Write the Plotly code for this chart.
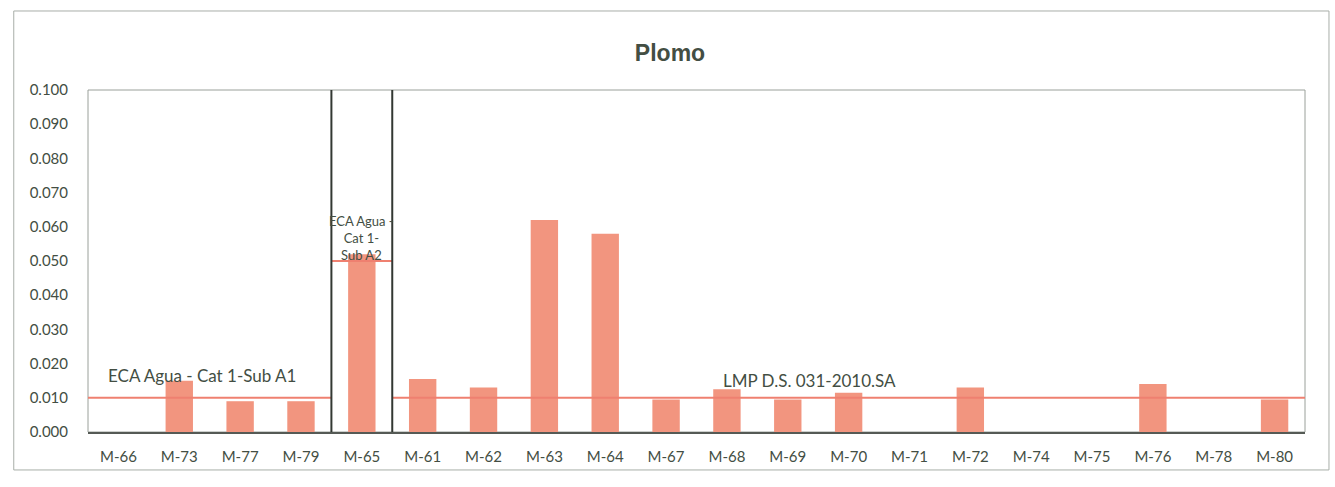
import plotly.graph_objects as go

# Sampling points and measured lead concentration (mg/L)
categories = ["M-66", "M-73", "M-77", "M-79", "M-65", "M-61", "M-62", "M-63", "M-64", "M-67",
              "M-68", "M-69", "M-70", "M-71", "M-72", "M-74", "M-75", "M-76", "M-78", "M-80"]
plomo = [0.0, 0.015, 0.009, 0.009, 0.052, 0.0155, 0.013, 0.062, 0.058, 0.0095,
         0.0125, 0.0095, 0.0115, 0.0, 0.013, 0.0, 0.0, 0.014, 0.0, 0.0095]

# Reference limits and the category spans they apply to (index ranges)
limit_names = ["ECA Agua - Cat 1-Sub A1", "ECA Agua -<br>Cat 1-<br>Sub A2", "LMP D.S. 031-2010.SA"]
limit_values = [0.010, 0.050, 0.010]
limit_spans = [(0, 3), (4, 4), (5, 19)]

y_ticks = [round(0.01 * i, 3) for i in range(11)]

BAR = "#F2957F"
LINE = "#EF8070"
TEXT = "#434E43"
FONT = "Lato"

idx = list(range(len(categories)))

fig = go.Figure()
fig.add_trace(go.Bar(x=idx, y=plomo, marker=dict(color=BAR, line=dict(width=0)),
                     width=0.45, showlegend=False))

# Limit lines drawn across their category spans
for val, (a, b) in zip(limit_values, limit_spans):
    fig.add_trace(go.Scatter(x=[a - 0.5, b + 0.5], y=[val, val], mode="lines",
                             line=dict(color=LINE, width=2), showlegend=False,
                             hoverinfo="skip"))

# Dark separators around the A2 group
for xb in (3.5, 4.5):
    fig.add_shape(type="line", x0=xb, x1=xb, y0=0, y1=0.1, xref="x", yref="y",
                  line=dict(color="#333833", width=2))

# Limit labels
fig.add_annotation(x=1.38, y=limit_values[0] + 0.0065, text=limit_names[0], showarrow=False,
                   font=dict(family=FONT, size=17, color=TEXT))
fig.add_annotation(x=4, y=limit_values[1] + 0.0068, text=limit_names[1], showarrow=False,
                   font=dict(family=FONT, size=13, color=TEXT), align="center")
fig.add_annotation(x=11.35, y=limit_values[2] + 0.0052, text=limit_names[2], showarrow=False,
                   font=dict(family=FONT, size=17, color=TEXT))

# Plot-area frame and outer chart frame
fig.add_shape(type="rect", xref="paper", yref="paper", x0=0, x1=1, y0=0, y1=1,
              line=dict(color="#9aa09a", width=1), layer="below")
fig.add_shape(type="rect", xref="paper", yref="paper", x0=-0.061, x1=1.0197,
              y0=-0.111, y1=1.231, line=dict(color="#a8aea8", width=1))

fig.update_layout(
    width=1335, height=487,
    margin=dict(l=88, r=30, t=90, b=55),
    paper_bgcolor="white", plot_bgcolor="white",
    title=dict(text="<b>Plomo</b>", x=670 / 1335,
               xanchor="center", y=1 - 53 / 487, yanchor="middle",
               font=dict(family="Liberation Sans", size=23, color=TEXT)),
    bargap=0.55,
    font=dict(family=FONT, color=TEXT),
)
fig.update_xaxes(range=[-0.5, len(categories) - 0.5], tickmode="array", tickvals=idx,
                 ticktext=categories, showgrid=False, zeroline=False,
                 showline=True, linecolor="#555a55", linewidth=1.5,
                 ticks="outside", ticklen=0, ticklabelstandoff=10,
                 tickfont=dict(family=FONT, size=15, color=TEXT))
fig.update_yaxes(range=[0, 0.1], tickmode="array", tickvals=y_ticks,
                 ticktext=[f"{v:.3f}" for v in y_ticks], showgrid=False, zeroline=False,
                 showline=False, ticks="outside", ticklen=0, ticklabelstandoff=16,
                 tickfont=dict(family=FONT, size=15, color=TEXT))

fig.write_html("out.html")
